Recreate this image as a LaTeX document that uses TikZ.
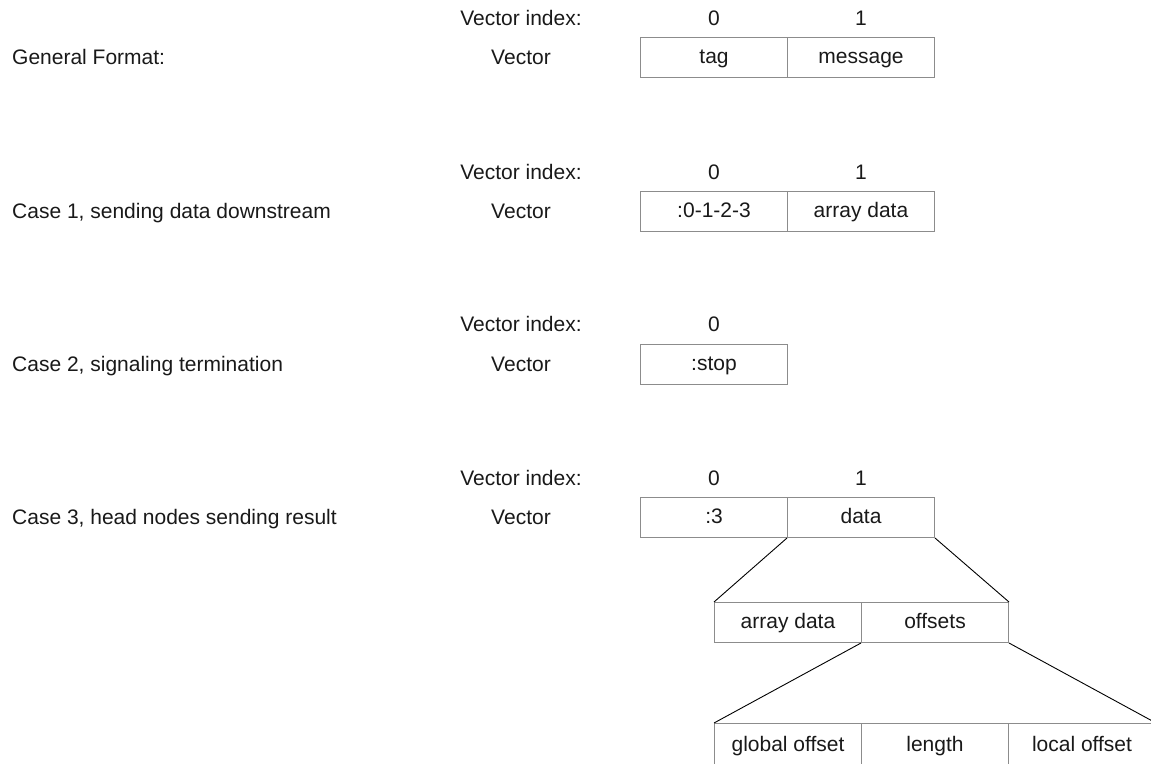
\documentclass[tikz,border=0pt]{standalone}
\usepackage{fontspec}
\setmainfont{Liberation Sans}
\begin{document}
\begin{tikzpicture}[x=1pt,y=-1pt,
  txt/.style={inner sep=0pt, text=black!90, font=\fontsize{21}{25}\selectfont, text height=15pt, text depth=4pt},
  cell/.style={txt, draw=black!45, line width=1pt, minimum width=147pt, minimum height=40pt, anchor=north west},
  link/.style={draw=black, line width=0.9pt}]
\useasboundingbox (0,0) rectangle (1151,763);

% General format
\node[txt, anchor=west] (l0) at (12,59) {General Format:};
\node[txt] (i0) at (521,20) {Vector index:};
\node[txt] (v0) at (521,59) {Vector};
\node[cell] (a0) at (640,37) {tag};
\node[cell] (b0) at (787,37) {message};
\node[txt] (n00) at (a0.center |- i0) {0};
\node[txt] (n01) at (b0.center |- i0) {1};

% Case 1
\node[txt, anchor=west] (l1) at (12,213) {Case 1, sending data downstream};
\node[txt] (i1) at (521,174) {Vector index:};
\node[txt] (v1) at (521,213) {Vector};
\node[cell] (a1) at (640,191) {:0-1-2-3};
\node[cell] (b1) at (787,191) {array data};
\node[txt] (n10) at (a1.center |- i1) {0};
\node[txt] (n11) at (b1.center |- i1) {1};

% Case 2
\node[txt, anchor=west] (l2) at (12,366) {Case 2, signaling termination};
\node[txt] (i2) at (521,326) {Vector index:};
\node[txt] (v2) at (521,366) {Vector};
\node[cell] (a2) at (640,344) {:stop};
\node[txt] (n20) at (a2.center |- i2) {0};

% Case 3
\node[txt, anchor=west] (l3) at (12,519) {Case 3, head nodes sending result};
\node[txt] (i3) at (521,480) {Vector index:};
\node[txt] (v3) at (521,519) {Vector};
\node[cell] (a3) at (640,497) {:3};
\node[cell] (b3) at (787,497) {data};
\node[txt] (n30) at (a3.center |- i3) {0};
\node[txt] (n31) at (b3.center |- i3) {1};

% Contents of the data field
\node[cell] (ad) at (714,602) {array data};
\node[cell] (of) at (861,602) {offsets};

% Contents of the offsets field (runs past the lower and right page edges)
\node[cell, minimum height=44pt] (go) at (714,723) {global offset};
\node[cell, minimum height=44pt] (ln) at (861,723) {length};
\node[cell, minimum height=44pt] (lo) at (1008,723) {local offset};

% Expansion lines
\draw[link] (b3.south west) -- (ad.north west);
\draw[link] (b3.south east) -- (of.north east);
\draw[link] (of.south west) -- (go.north west);
\draw[link] (of.south east) -- (lo.north east);
\end{tikzpicture}
\end{document}
